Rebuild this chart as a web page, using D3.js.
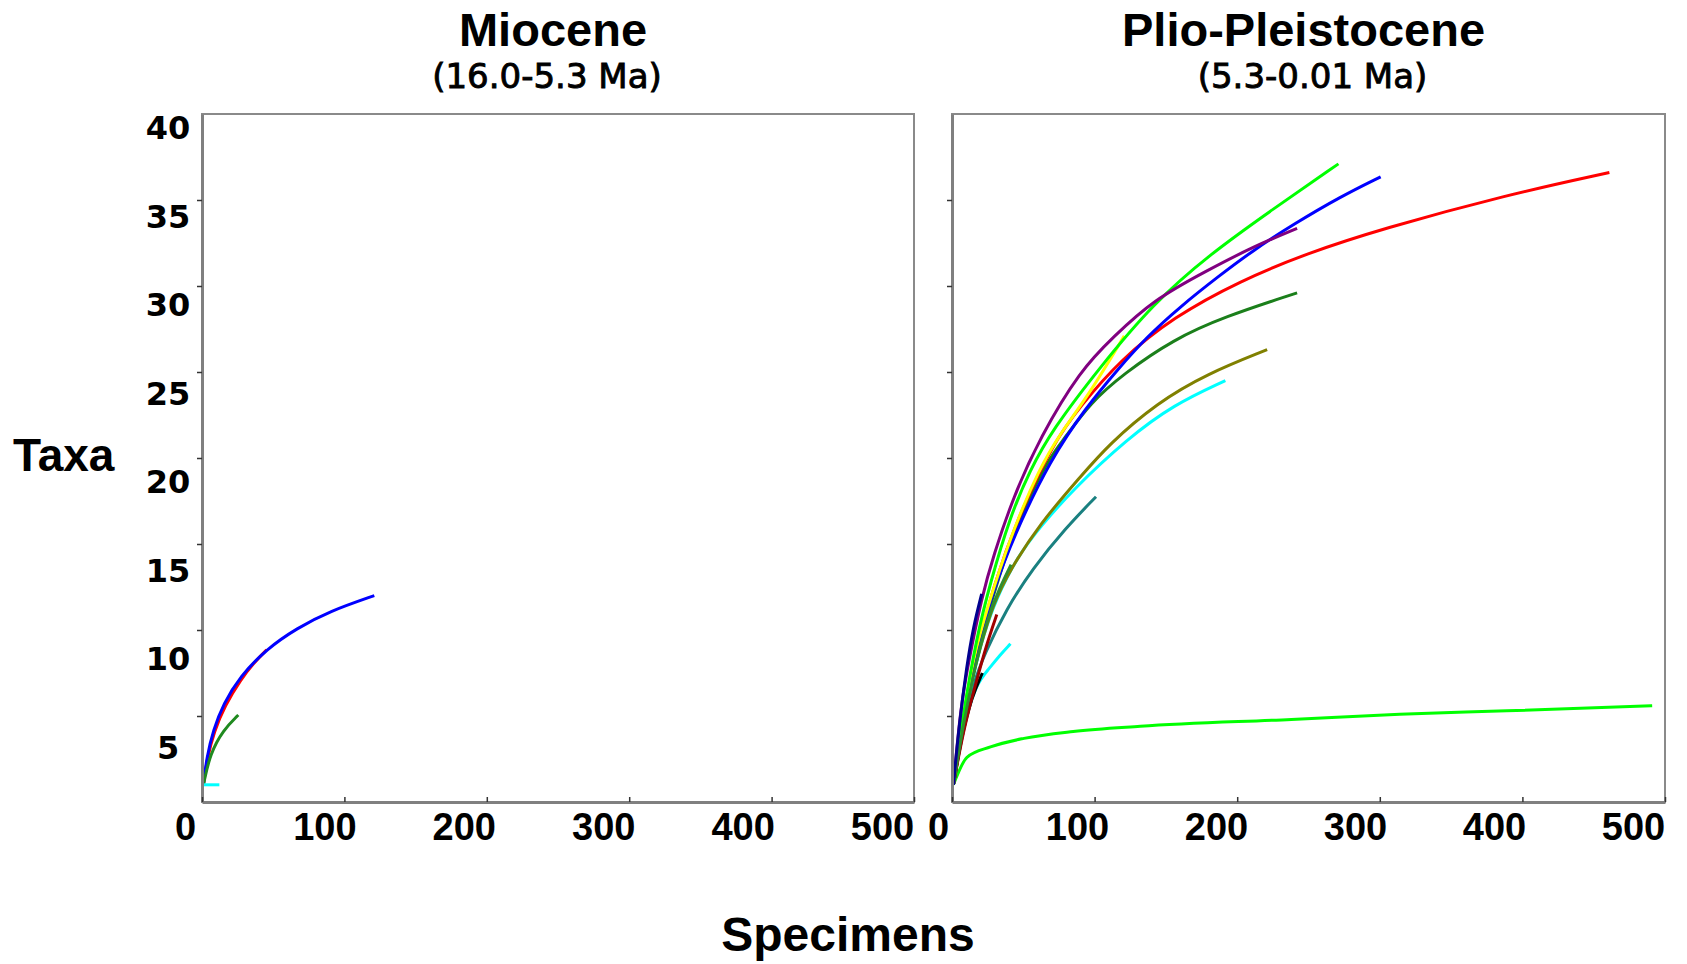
<!DOCTYPE html>
<html>
<head>
<meta charset="utf-8">
<script src="https://cdn.jsdelivr.net/npm/d3@7"></script>
<style>
  body { margin: 0; background: #ffffff; }
</style>
</head>
<body>
<script>
// Tick values and text
var xTicks = [0, 100, 200, 300, 400, 500];
var yTickMarks = [5, 10, 15, 20, 25, 30, 35];
var yTickLabels = [5, 10, 15, 20, 25, 30, 35, 40];
var panelTitles = ["Miocene", "Plio-Pleistocene"];
var panelSubtitles = ["(16.0-5.3 Ma)", "(5.3-0.01 Ma)"];

// Miocene rarefaction curves: [specimens, taxa]
var mioBlue = [[1, 1], [3.3, 2.6], [8, 4.2], [15, 5.7], [26.7, 7.3], [45.4, 8.9], [66.5, 10.1], [89.9, 11.1], [121, 12.0]];
var mioRed = [[1, 1], [3.5, 2.5], [8.5, 4.1], [16, 5.6], [27.5, 7.15], [36, 8.05], [45.4, 8.85]];
var mioGreen = [[1, 1], [5.6, 2.8], [15, 4.2], [25.5, 5.06]];
var mioCyan = [[1, 1], [12.2, 1]];

// Plio-Pleistocene rarefaction curves: [specimens, taxa]
var plioLimeLow = [[1, 1], [10.5, 2.6], [27, 3.2], [50.5, 3.7], [85, 4.1], [132, 4.4], [238, 4.8], [314, 5.1], [389, 5.3], [491, 5.6]];
var plioTeal = [[1, 1], [8, 4.6], [15, 6.9], [22.8, 8.6], [37.9, 11.2], [56.8, 13.6], [79.4, 15.9], [101, 17.75]];
var plioCyan = [[1, 1], [8, 4.8], [20, 9.3], [31.4, 11.9], [45.4, 14.2], [61.8, 16.0], [85.2, 18.2], [122.7, 21.1], [155.4, 23.1], [191.7, 24.5]];
var plioOlive = [[1, 1], [10, 6.0], [19.7, 9.0], [29, 11.55], [40.7, 13.5], [61.8, 16.2], [89.9, 18.9], [110, 20.8], [143.7, 23.2], [178.9, 24.9], [221, 26.3]];
var plioDarkGreen = [[1, 1], [8, 4.8], [19.7, 9.4], [29, 12.0], [38.4, 14.5], [50, 17.0], [68.8, 20.1], [78.2, 21.05], [96.9, 23.2], [120.3, 24.9], [155.4, 26.9], [190.5, 28.2], [242, 29.6]];
var plioRed = [[1, 1], [8, 4.6], [19.7, 9.6], [29, 12.5], [45.4, 16.4], [71.1, 20.9], [89.9, 23.0], [118, 25.7], [155.4, 28.2], [202, 30.3], [249, 31.9], [300.6, 33.3], [389, 35.3], [461, 36.6]];
var plioBlue = [[1, 1], [8, 4.8], [19.7, 9.6], [29, 12.3], [43, 15.4], [68.8, 19.9], [94.6, 23.0], [115.7, 25.1], [136.7, 27.05], [160.1, 28.8], [185.9, 30.5], [211.6, 32.1], [239.7, 33.6], [272.5, 35.2], [300.6, 36.35]];
var plioYellow = [[1, 1], [8, 5.0], [15, 8.45], [24.4, 11.2], [40.7, 15.4], [61.8, 19.5], [75.8, 21.4], [96.9, 23.8], [120.8, 27.1]];
var plioLime = [[1, 1], [8, 5.2], [17.3, 9.6], [26.7, 12.7], [40.7, 16.6], [54.8, 19.3], [70, 21.6], [103.9, 25.3], [141.4, 29.0], [180, 31.8], [225.6, 34.5], [271, 37.1]];
var plioPurple = [[1, 1], [6, 5.5], [11.5, 8.1], [20.8, 11.9], [29, 14.3], [43, 17.75], [61.8, 21.2], [89.9, 25.1], [113.3, 27.05], [141.4, 29.2], [178.9, 30.9], [211.6, 32.3], [242, 33.35]];
var plioCyanShort = [[1, 1], [5, 3.3], [10.3, 5.0], [17.3, 6.9], [25.5, 7.7], [33.7, 8.55], [41, 9.2]];
var plioBlack = [[1, 1], [7, 3.9], [13.8, 6.1], [21.3, 7.5]];
var plioMaroon = [[1, 1], [8, 4.2], [17, 7.0], [24.4, 9.2], [31.4, 10.9]];
var plioForest = [[1, 1], [8, 4.6], [16, 7.8], [24.4, 10.6], [33.7, 12.5], [41.4, 13.8]];
var plioNavy = [[1, 1], [5, 4.5], [10.3, 7.9], [15, 10.2], [20.8, 12.1]];

var mioceneSeries = [mioRed, mioBlue, mioGreen, mioCyan];
var mioceneColors = ["#ff0000", "#0000ff", "#1f8a1f", "#00ffff"];

var plioSeries = [plioLimeLow, plioTeal, plioCyan, plioOlive, plioDarkGreen, plioRed, plioBlue,
  plioYellow, plioLime, plioPurple, plioCyanShort, plioBlack, plioMaroon, plioForest, plioNavy];
var plioColors = ["#00ff00", "#1a8080", "#00ffff", "#808000", "#1b7f1b", "#ff0000", "#0000ff",
  "#ffff00", "#00ff00", "#800080", "#00ffff", "#000000", "#a00000", "#2f8f2f", "#000090"];

// SVG area
var svgWidth = 1687;
var svgHeight = 964;
var titleFont = "'Liberation Sans', Arial, sans-serif";
var numFont = "'DejaVu Sans', Verdana, sans-serif";

var svg = d3.select("body")
  .append("svg")
  .attr("width", svgWidth)
  .attr("height", svgHeight)
  .style("background", "#ffffff");

// Panel geometry
var panels = [
  { left: 202, top: 114, width: 712, height: 688, subDx: -11, labelRange: [185, 882],
    series: mioceneSeries, colors: mioceneColors },
  { left: 952, top: 114, width: 713, height: 688, subDx: 4, labelRange: [938, 1633],
    series: plioSeries, colors: plioColors }
];

panels.forEach(function(p, i) {
  var xScale = d3.scaleLinear().domain([0, 500]).range([0, p.width]);
  var yScale = d3.scaleLinear().domain([0, 40]).range([p.height, 0]);

  var chartGroup = svg.append("g")
    .attr("transform", `translate(${p.left}, ${p.top})`);

  // frame
  chartGroup.append("rect")
    .attr("x", 0)
    .attr("y", 0)
    .attr("width", p.width)
    .attr("height", p.height)
    .attr("fill", "none")
    .attr("stroke", "#8a8a8a")
    .attr("stroke-width", 2);

  // curves: smoothed, except the low curve that has a sharp bend
  var smoothLine = d3.line()
    .x(d => xScale(d[0]))
    .y(d => yScale(d[1]))
    .curve(d3.curveBasis);
  var bentLine = d3.line()
    .x(d => xScale(d[0]))
    .y(d => yScale(d[1]))
    .curve(d3.curveMonotoneX);

  chartGroup.selectAll("path.curve")
    .data(p.series).enter()
    .append("path")
    .attr("class", "curve")
    .attr("d", d => d === plioLimeLow ? bentLine(d) : smoothLine(d))
    .attr("fill", "none")
    .attr("stroke", (d, j) => p.colors[j])
    .attr("stroke-width", 3)
    .attr("stroke-linecap", "butt");

  // left axis with outward tick marks
  var leftAxis = d3.axisLeft(yScale).tickValues(yTickMarks).tickSizeInner(5).tickSizeOuter(0).tickFormat("");
  var gl = chartGroup.append("g").call(leftAxis);
  gl.select(".domain").attr("stroke", "#808080").attr("stroke-width", 3);
  gl.selectAll(".tick line").attr("stroke", "#333").attr("stroke-width", 1.5);

  // bottom axis with inward tick marks
  var bottomAxis = d3.axisBottom(xScale).tickValues(xTicks).tickSizeInner(-5).tickSizeOuter(0).tickFormat("");
  var gb = chartGroup.append("g")
    .attr("transform", "translate(0, " + p.height + ")")
    .call(bottomAxis);
  gb.select(".domain").attr("stroke", "#808080").attr("stroke-width", 3);
  gb.selectAll(".tick line").attr("stroke", "#333").attr("stroke-width", 1.5);

  // x tick labels (placed slightly left of the marks, as in the figure)
  var xLabelScale = d3.scaleLinear().domain([0, 500]).range(p.labelRange);
  var gx = svg.append("g")
    .attr("transform", "translate(0, 826)")
    .call(d3.axisBottom(xLabelScale).tickValues(xTicks).tickSize(0));
  gx.select(".domain").remove();
  gx.selectAll("text")
    .attr("y", 0)
    .attr("dy", "0.36em")
    .attr("font-family", titleFont)
    .attr("font-weight", "bold")
    .attr("font-size", 38)
    .attr("fill", "#000");

  // titles
  var cx = p.left + p.width / 2;
  svg.append("text")
    .attr("x", cx - 5)
    .attr("y", 46)
    .attr("text-anchor", "middle")
    .attr("font-family", titleFont)
    .attr("font-weight", "bold")
    .attr("font-size", 47)
    .text(panelTitles[i]);

  // subtitle: medium weight
  svg.append("text")
    .attr("x", cx + p.subDx)
    .attr("y", 88)
    .attr("text-anchor", "middle")
    .attr("font-family", numFont)
    .attr("font-size", 34)
    .attr("stroke", "#000")
    .attr("stroke-width", 0.9)
    .text(panelSubtitles[i]);
});

// y tick labels (only on the left panel)
var yLabelScale = d3.scaleLinear().domain([0, 40]).range([835, 127]);
var gy = svg.append("g")
  .attr("transform", "translate(168, 0)")
  .call(d3.axisLeft(yLabelScale).tickValues(yTickLabels).tickSize(0));
gy.select(".domain").remove();
gy.selectAll("text")
  .attr("x", 0)
  .attr("dy", "0.36em")
  .attr("text-anchor", "middle")
  .attr("font-family", numFont)
  .attr("font-weight", "bold")
  .attr("font-size", 32)
  .attr("fill", "#000");

// axis titles
svg.append("text")
  .attr("x", 13)
  .attr("y", 471)
  .attr("font-family", titleFont)
  .attr("font-weight", "bold")
  .attr("font-size", 46)
  .text("Taxa");

svg.append("text")
  .attr("x", 848)
  .attr("y", 951)
  .attr("text-anchor", "middle")
  .attr("font-family", titleFont)
  .attr("font-weight", "bold")
  .attr("font-size", 48)
  .text("Specimens");
</script>
</body>
</html>
